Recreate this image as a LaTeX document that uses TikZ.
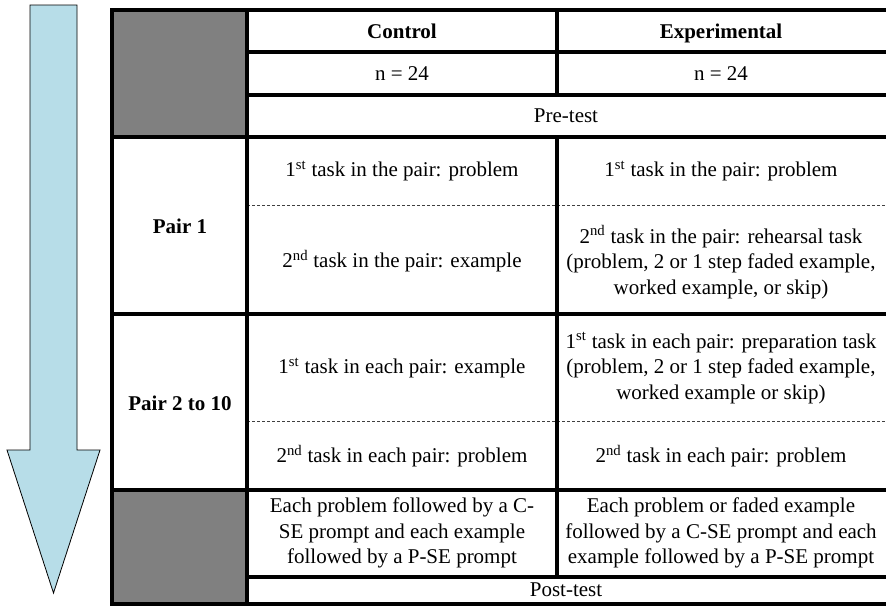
\documentclass[tikz,border=0pt]{standalone}
\usepackage{fontspec}
\setmainfont{Liberation Serif}
\usepackage{xcolor}
\usetikzlibrary{positioning}
\definecolor{timeblue}{HTML}{B7DDE8}
\tikzset{txt/.style={align=center,inner sep=0pt,font=\fontsize{21}{25.5}\selectfont},
  hd/.style={txt,font=\fontsize{21}{25.5}\selectfont\bfseries,text height=14pt,text depth=4pt},
  rule/.style={line width=3.5pt,line cap=rect},
  sep/.style={line width=0.7pt,dash pattern=on 3pt off 2pt,black!75}}

\begin{document}
\begin{tikzpicture}[x=1pt,y=-1pt]
    \useasboundingbox (0,0) rectangle (886,606);
    \clip (0,0) rectangle (886,606);

    % time arrow
    \draw[fill=timeblue,line width=0.8pt,line join=miter] (30,5) -- (77,5) -- (77,450) -- (100,450)
        -- (53.5,593) -- (7,450) -- (30,450) -- cycle;

    % gray cells
    \fill[gray] (112,10) rectangle (247,137);
    \fill[gray] (112,490) rectangle (247,604);

    % dashed separators
    \draw[sep] (247,205) -- (890,205);
    \draw[sep] (247,421) -- (890,421);

    % grid
    \draw[rule] (112,10) -- (890,10);
    \draw[rule] (247,52) -- (890,52);
    \draw[rule] (247,95) -- (890,95);
    \draw[rule] (112,137) -- (890,137);
    \draw[rule] (112,314) -- (890,314);
    \draw[rule] (112,490) -- (890,490);
    \draw[rule] (247,577) -- (890,577);
    \draw[rule] (112,604) -- (890,604);
    \draw[rule] (112,10) -- (112,604);
    \draw[rule] (247,10) -- (247,604);
    \draw[rule] (557,10) -- (557,95);
    \draw[rule] (557,137) -- (557,577);

    \node[hd] (ctrl) at (402,33) {Control};
    \node[hd] (expt) at (721,33) {Experimental};
    \node[txt] (nctrl) at (402,74) {n = 24};
    \node[txt] (nexpt) at (721,74) {n = 24};
    \node[txt] (pre) at (566,116) {Pre-test};

    \node[hd] (pairone) at (180,228) {Pair 1};
    \node[txt] (c11) at (402,171) {1\textsuperscript{st} task in the pair: problem};
    \node[txt] (e11) at (721,171) {1\textsuperscript{st} task in the pair: problem};
    \node[txt] (c12) at (402,261) {2\textsuperscript{nd} task in the pair: example};
    \node[txt] (e12) at (721,262) {2\textsuperscript{nd} task in the pair: rehearsal task\\(problem, 2 or 1 step faded example,\\worked example, or skip)};

    \node[hd] (pairtwo) at (180,405) {Pair 2 to 10};
    \node[txt] (c21) at (402,368) {1\textsuperscript{st} task in each pair: example};
    \node[txt] (e21) at (721,368) {1\textsuperscript{st} task in each pair: preparation task\\(problem, 2 or 1 step faded example,\\worked example or skip)};
    \node[txt] (c22) at (402,456) {2\textsuperscript{nd} task in each pair: problem};
    \node[txt] (e22) at (721,456) {2\textsuperscript{nd} task in each pair: problem};

    \node[txt] (cprompt) at (402,533) {Each problem followed by a C-\\SE prompt and each example\\followed by a P-SE prompt};
    \node[txt] (eprompt) at (721,533) {Each problem or faded example\\followed by a C-SE prompt and each\\example followed by a P-SE prompt};
    \node[txt] (post) at (566,590) {Post-test};
\end{tikzpicture}
\end{document}
